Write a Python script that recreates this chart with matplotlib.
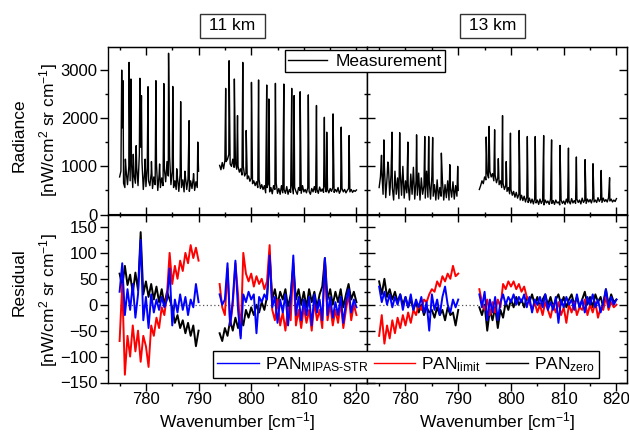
import matplotlib
matplotlib.use('Agg')
import matplotlib.pyplot as plt
from matplotlib.lines import Line2D
from matplotlib.ticker import MultipleLocator, NullFormatter
import numpy as np

plt.rcParams['font.family'] = ['Liberation Sans', 'DejaVu Sans']
plt.rcParams['mathtext.fontset'] = 'custom'
plt.rcParams['mathtext.rm'] = 'Liberation Sans'
plt.rcParams['mathtext.it'] = 'Liberation Sans:italic'
plt.rcParams['mathtext.bf'] = 'Liberation Sans:bold'

# ---- wavenumber grids (cm-1) ----
base_x1 = [775.00, 775.25, 775.50, 775.75, 776.00, 776.25, 776.50, 776.75,
           777.00, 777.25, 777.50, 777.75, 778.00, 778.25, 778.50, 778.75,
           779.00, 779.25, 779.50, 779.75, 780.00, 780.25, 780.50, 780.75,
           781.00, 781.25, 781.50, 781.75, 782.00, 782.25, 782.50, 782.75,
           783.00, 783.25, 783.50, 783.75, 784.00, 784.25, 784.50, 784.75,
           785.00, 785.25, 785.50, 785.75, 786.00, 786.25, 786.50, 786.75,
           787.00, 787.25, 787.50, 787.75, 788.00, 788.25, 788.50, 788.75,
           789.00, 789.25, 789.50, 789.75, 790.00]
base_x2 = [794.00, 794.25, 794.50, 794.75, 795.00, 795.25, 795.50, 795.75,
           796.00, 796.25, 796.50, 796.75, 797.00, 797.25, 797.50, 797.75,
           798.00, 798.25, 798.50, 798.75, 799.00, 799.25, 799.50, 799.75,
           800.00, 800.25, 800.50, 800.75, 801.00, 801.25, 801.50, 801.75,
           802.00, 802.25, 802.50, 802.75, 803.00, 803.25, 803.50, 803.75,
           804.00, 804.25, 804.50, 804.75, 805.00, 805.25, 805.50, 805.75,
           806.00, 806.25, 806.50, 806.75, 807.00, 807.25, 807.50, 807.75,
           808.00, 808.25, 808.50, 808.75, 809.00, 809.25, 809.50, 809.75,
           810.00, 810.25, 810.50, 810.75, 811.00, 811.25, 811.50, 811.75,
           812.00, 812.25, 812.50, 812.75, 813.00, 813.25, 813.50, 813.75,
           814.00, 814.25, 814.50, 814.75, 815.00, 815.25, 815.50, 815.75,
           816.00, 816.25, 816.50, 816.75, 817.00, 817.25, 817.50, 817.75,
           818.00, 818.25, 818.50, 818.75, 819.00, 819.25, 819.50, 819.75,
           820.00]
res_x1 = [775.0, 775.5, 776.0, 776.5, 777.0, 777.5, 778.0, 778.5, 779.0, 779.5,
          780.0, 780.5, 781.0, 781.5, 782.0, 782.5, 783.0, 783.5, 784.0, 784.5,
          785.0, 785.5, 786.0, 786.5, 787.0, 787.5, 788.0, 788.5, 789.0, 789.5,
          790.0]
res_x2 = [794.0, 794.5, 795.0, 795.5, 796.0, 796.5, 797.0, 797.5, 798.0, 798.5,
          799.0, 799.5, 800.0, 800.5, 801.0, 801.5, 802.0, 802.5, 803.0, 803.5,
          804.0, 804.5, 805.0, 805.5, 806.0, 806.5, 807.0, 807.5, 808.0, 808.5,
          809.0, 809.5, 810.0, 810.5, 811.0, 811.5, 812.0, 812.5, 813.0, 813.5,
          814.0, 814.5, 815.0, 815.5, 816.0, 816.5, 817.0, 817.5, 818.0, 818.5,
          819.0, 819.5, 820.0]

# ---- 11 km radiance: continuum between lines + line peaks ----
rad11_base1 = [780, 900, 1800, 650, 560, 900, 620, 1000,
               700, 1100, 560, 820, 650, 980, 600, 1250,
               1400, 1100, 520, 880, 580, 960, 700, 600,
               850, 540, 780, 620, 1050, 500, 820, 560,
               760, 600, 950, 680, 1100, 800, 1200, 620,
               900, 560, 700, 520, 760, 480, 850, 560,
               720, 470, 800, 520, 740, 480, 700, 540,
               760, 500, 680, 560, 900]
rad11_pk_x1 = [775.40, 775.65, 776.10, 776.80, 777.15, 777.60, 778.15, 778.85,
               779.15, 779.85, 780.40, 781.05, 781.90, 782.60, 783.40, 784.30,
               785.10, 785.85, 786.60, 787.40, 788.20, 789.05, 789.85]
rad11_pk_y1 = [3000, 2780, 1150, 3160, 2815, 1250, 1430, 2830,
               2470, 1150, 2655, 1100, 2780, 1050, 2720, 3350,
               2660, 950, 2345, 900, 1950, 850, 1505]
rad11_base2 = [1020, 930, 1080, 950, 1120, 1100, 1150, 1250,
               1050, 1000, 1150, 980, 1080, 940, 1000, 880,
               950, 820, 1000, 800, 860, 740, 800, 690,
               760, 640, 700, 600, 680, 560, 720, 540,
               620, 520, 600, 450, 560, 640, 470, 560,
               430, 600, 520, 650, 440, 540, 420, 600,
               450, 520, 440, 580, 420, 520, 460, 620,
               430, 560, 480, 420, 560, 500, 440, 600,
               470, 520, 450, 560, 480, 420, 540, 470,
               580, 460, 520, 440, 570, 480, 530, 460,
               600, 470, 520, 450, 540, 480, 560, 460,
               520, 470, 560, 440, 500, 540, 470, 520,
               450, 500, 540, 470, 520, 460, 500, 480,
               510]
rad11_pk_x2 = [795.15, 795.80, 796.80, 797.40, 798.40, 799.05, 800.05, 801.40,
               802.95, 803.35, 804.60, 806.20, 807.70, 808.15, 809.30, 810.85,
               812.40, 813.90, 814.35, 815.55, 817.10, 818.60]
rad11_pk_y2 = [2620, 3195, 2815, 2055, 3160, 1745, 2745, 2795,
               2690, 2400, 2725, 2710, 2620, 2470, 2550, 2485,
               2265, 2020, 1710, 2090, 1815, 1640]

# ---- 13 km radiance ----
rad13_base1 = [560, 780, 900, 420, 1000, 350, 760, 1050,
               400, 820, 560, 300, 900, 420, 760, 330,
               880, 400, 1000, 340, 700, 450, 640, 300,
               840, 420, 980, 320, 700, 400, 860, 300,
               760, 420, 600, 340, 900, 360, 700, 320,
               800, 380, 620, 300, 720, 320, 560, 380,
               700, 300, 620, 350, 700, 300, 560, 360,
               680, 320, 600, 380, 500]
rad13_pk_x1 = [775.45, 775.90, 776.65, 777.45, 778.90, 780.45, 782.10, 783.65,
               784.40, 785.15, 786.80, 788.40, 789.90]
rad13_pk_y1 = [1230, 1550, 1090, 1710, 1700, 1505, 1655, 1620,
               1620, 1600, 1275, 1035, 1000]
rad13_base2 = [520, 600, 700, 640, 780, 720, 860, 760,
               900, 780, 850, 700, 820, 660, 760, 620,
               700, 560, 650, 520, 600, 480, 560, 430,
               520, 400, 480, 360, 460, 340, 420, 300,
               400, 290, 380, 260, 360, 250, 340, 240,
               320, 220, 330, 240, 300, 210, 320, 230,
               290, 200, 300, 240, 280, 210, 320, 230,
               290, 210, 300, 240, 260, 200, 300, 230,
               280, 210, 320, 240, 280, 220, 330, 240,
               290, 230, 320, 250, 300, 220, 340, 250,
               300, 230, 320, 260, 310, 240, 340, 260,
               300, 250, 350, 270, 320, 250, 340, 270,
               310, 260, 350, 280, 320, 260, 300, 270,
               330]
rad13_pk_x2 = [795.30, 795.85, 796.90, 797.60, 798.40, 799.10, 799.90, 801.55,
               803.10, 804.60, 806.20, 807.70, 809.30, 810.90, 812.40, 814.05,
               815.55, 817.10, 818.70]
rad13_pk_y2 = [1610, 1830, 1760, 1160, 2055, 1100, 1690, 1745,
               1620, 1620, 1640, 1550, 1435, 1380, 1195, 1140,
               1055, 915, 765]

# ---- residuals, 11 km ----
res11_zero1 = [60, 35, 75, 38, 58, 22, 62, 28, 140, 20,
               45, 15, 40, 10, 35, 5, 30, 0, 25, 10,
               -5, -35, -20, -45, -30, -55, -35, -60, -40, -80,
               -50]
res11_limit1 = [-70, 40, -135, -60, -100, -40, -90, -50, -110, -60,
                -80, -120, -40, -60, -25, -45, -5, -20, 20, 100,
                40, 75, 50, 85, 65, 100, 80, 115, 90, 110,
                85]
res11_mipas1 = [25, 80, -20, 30, -10, 40, -25, 20, 125, -30,
                15, -45, 20, -15, 10, -10, 15, -5, 10, 70,
                -40, 10, -15, 20, -10, 15, -20, 10, -5, 40,
                5]
res11_zero2 = [-55, -70, -45, -60, -30, -50, -25, -45, -20, -40,
               -10, -25, -5, -20, 0, -15, 5, -10, 15, 100,
               10, 30, 0, 25, 10, 30, -5, 20, 75, 10,
               30, 0, 25, -5, 30, 5, 25, -5, 20, 35,
               90, 10, 30, 0, 25, 5, 30, -5, 20, 40,
               10, 25, 5]
res11_limit2 = [40, -5, -20, 70, -40, 0, 80, 20, -60, 100,
                60, 45, 60, 35, 55, 40, 50, 30, 45, 115,
                -10, -30, 10, -40, -15, -50, -5, -30, 80, -40,
                -10, -45, -5, -35, -10, -50, 5, -30, -10, -45,
                85, -30, 0, -40, -10, -35, 5, -45, -10, 20,
                -30, 0, -20]
res11_mipas2 = [20, 0, 10, 80, -40, 10, 85, -10, -65, 20,
                5, 25, 10, 20, -55, 15, 5, 20, 10, 95,
                -5, 15, -35, 10, -15, 20, -40, 10, 95, -20,
                15, -30, 10, -20, 15, -40, 20, -15, 10, -30,
                90, -20, 15, -25, 5, -20, 15, -35, 5, 30,
                -15, 10, -5]

# ---- residuals, 13 km ----
res13_zero1 = [45, 20, 50, 15, 30, 10, 25, 5, 20, 0,
               15, -5, 10, -10, 5, -15, 0, -20, -5, -15,
               -10, -25, -5, -20, -10, -30, -5, -20, -15, -40,
               -10]
res13_limit1 = [-60, -20, -75, -40, -65, -30, -55, -25, -45, -20,
                -40, -15, -35, -10, -20, 0, -10, 10, 5, 20,
                30, 25, 45, 35, 55, 45, 60, 50, 75, 55,
                60]
res13_mipas1 = [35, 5, 25, 0, 20, -5, 15, 0, 20, -10,
                15, -5, 20, -10, 10, -5, 15, -15, 5, -50,
                20, -10, 10, -20, 15, 35, 0, -15, 10, -5,
                10]
res13_zero2 = [-5, -20, 0, -50, -10, -30, -5, -45, -10, -25,
               5, -10, 10, -5, 15, 0, 10, -5, 15, 5,
               20, 0, 15, -5, 10, 20, 0, 15, -5, 10,
               20, 0, 15, -5, 10, 20, 0, 15, -5, 10,
               25, 0, 15, -5, 20, 5, 15, -5, 30, 0,
               20, 5, 10]
res13_limit2 = [30, 5, -10, 10, -20, 5, -15, 10, -5, 40,
                30, 45, 35, 45, 30, 40, 25, 35, 15, 5,
                -10, 5, -15, 0, -20, 5, -10, -25, 0, -15,
                5, -20, -5, -35, 0, -15, 5, -20, -5, -10,
                10, -20, 0, -15, 5, -25, -5, -10, 15, -10,
                5, -5, 0]
res13_mipas2 = [20, -5, 25, -30, 10, -15, 15, -30, 5, 20,
                0, 15, 5, 20, 0, 15, 5, 20, -5, 15,
                -15, 10, 0, 15, -5, 20, -10, 5, -10, 15,
                -35, 10, -5, 15, 0, 10, -10, 20, -5, 10,
                -15, 15, 0, 20, -5, 10, -15, 5, 30, -5,
                15, 0, 10]

altitudes = ['11 km', '13 km']
legend_labels = [r'PAN$_{\mathrm{MIPAS\text{-}STR}}$', r'PAN$_{\mathrm{limit}}$',
                 r'PAN$_{\mathrm{zero}}$']


def spectrum(bx, by, px, py):
    # merge continuum samples and line peaks into one trace
    x = np.concatenate([bx, px])
    y = np.concatenate([by, py])
    order = np.argsort(x, kind='stable')
    return x[order], y[order]


fig = plt.figure(figsize=(6.29, 4.33), dpi=100)
W, H = 629.0, 433.0
lefts = [107.5 / W, 367.0 / W]
widths = [259.5 / W, 260.0 / W]
top_b, top_h = 1 - 214.5 / H, 167.5 / H
bot_b, bot_h = 1 - 382.5 / H, 168.0 / H

FS = 12.5
TS = 12


def style(ax, xdir, ydir, xlab, ylab, ymaj, ymin):
    ax.set_xlim(772.7, 822.0)
    ax.xaxis.set_major_locator(MultipleLocator(10))
    ax.xaxis.set_minor_locator(MultipleLocator(5))
    ax.yaxis.set_major_locator(MultipleLocator(ymaj))
    ax.yaxis.set_minor_locator(MultipleLocator(ymin))
    ax.tick_params(axis='x', which='both', direction=xdir, labelbottom=xlab)
    ax.tick_params(axis='y', which='both', direction=ydir, labelleft=ylab)
    ax.tick_params(which='major', length=5.5, width=1, labelsize=TS, pad=1.5)
    ax.tick_params(which='minor', length=2.5, width=1)
    secx = ax.secondary_xaxis('top')
    secx.xaxis.set_major_locator(MultipleLocator(10))
    secx.xaxis.set_minor_locator(MultipleLocator(5))
    secx.xaxis.set_major_formatter(NullFormatter())
    secx.tick_params(which='both', direction='in')
    secx.tick_params(which='major', length=5.5, width=1)
    secx.tick_params(which='minor', length=2.5, width=1)
    secy = ax.secondary_yaxis('right')
    secy.yaxis.set_major_locator(MultipleLocator(ymaj))
    secy.yaxis.set_minor_locator(MultipleLocator(ymin))
    secy.yaxis.set_major_formatter(NullFormatter())
    secy.tick_params(which='both', direction='in')
    secy.tick_params(which='major', length=5.5, width=1)
    secy.tick_params(which='minor', length=2.5, width=1)
    for sp in ax.spines.values():
        sp.set_linewidth(1.0)


rad = [
    [(rad11_base1, rad11_pk_x1, rad11_pk_y1), (rad11_base2, rad11_pk_x2, rad11_pk_y2)],
    [(rad13_base1, rad13_pk_x1, rad13_pk_y1), (rad13_base2, rad13_pk_x2, rad13_pk_y2)],
]
res = [
    [(res11_zero1, res11_limit1, res11_mipas1), (res11_zero2, res11_limit2, res11_mipas2)],
    [(res13_zero1, res13_limit1, res13_mipas1), (res13_zero2, res13_limit2, res13_mipas2)],
]
base_grids = [base_x1, base_x2]
res_grids = [res_x1, res_x2]

for i in range(2):
    ax_t = fig.add_axes([lefts[i], top_b, widths[i], top_h])
    ax_b = fig.add_axes([lefts[i], bot_b, widths[i], bot_h])

    for seg in range(2):
        by, pkx, pky = rad[i][seg]
        x, y = spectrum(base_grids[seg], by, pkx, pky)
        ax_t.plot(x, y, color='black', lw=1.0)
    ax_t.set_ylim(0, 3480)
    style(ax_t, 'in', 'out' if i == 0 else 'in', False, i == 0, 1000, 500)

    ax_b.hlines(0, res_x1[0], res_x2[-1], colors='#555555', linestyles=(0, (1, 2)), lw=0.9)
    for seg in range(2):
        zero, limit, mipas = res[i][seg]
        ax_b.plot(res_grids[seg], zero, color='black', lw=1.4)
        ax_b.plot(res_grids[seg], limit, color='#ff0000', lw=1.4)
        ax_b.plot(res_grids[seg], mipas, color='#0000ff', lw=1.4)
    ax_b.set_ylim(-150, 174)
    style(ax_b, 'out', 'out' if i == 0 else 'in', True, i == 0, 50, 25)

    cx = lefts[i] + widths[i] / 2
    fig.text(cx, 6 / H, r'Wavenumber [cm$^{-1}$]', ha='center', va='baseline', fontsize=FS)

# altitude boxes
for xc, lab in zip([232.5 / W, 492.5 / W], altitudes):
    fig.text(xc, 1 - 25.7 / H, ' ' + lab + ' ', ha='center', va='center', fontsize=FS,
             bbox=dict(boxstyle='square,pad=0.25', fc='white', ec='#333333', lw=1))

# y labels
fig.text(18.7 / W, 1 - 135 / H, 'Radiance', rotation=90, ha='center', va='center', fontsize=FS)
fig.text(48.5 / W, 1 - 130 / H, r'[nW/cm$^{2}$ sr cm$^{-1}$]', rotation=90, ha='center',
         va='center', fontsize=FS)
fig.text(18.7 / W, 1 - 282 / H, 'Residual', rotation=90, ha='center', va='center', fontsize=FS)
fig.text(48.5 / W, 1 - 300 / H, r'[nW/cm$^{2}$ sr cm$^{-1}$]', rotation=90, ha='center',
         va='center', fontsize=FS)

# legends
meas = Line2D([], [], color='black', lw=1.0)
fig.legend([meas], ['Measurement'], loc='upper center', bbox_to_anchor=(365 / W, 1 - 50 / H),
           fontsize=FS, fancybox=False, edgecolor='black', framealpha=1, handlelength=2.2,
           handletextpad=0.5, borderpad=0.2, borderaxespad=0)

h_blue = Line2D([], [], color='#0000ff', lw=1.0)
h_red = Line2D([], [], color='#ff0000', lw=1.0)
h_black = Line2D([], [], color='black', lw=1.0)
fig.legend([h_blue, h_red, h_black], legend_labels, ncol=3, loc='lower center',
           bbox_to_anchor=(406 / W, 1 - 378 / H), fontsize=FS, fancybox=False,
           edgecolor='black', framealpha=1, handlelength=2.4, handletextpad=0.35,
           columnspacing=0.3, borderpad=0.25, borderaxespad=0)

fig.savefig('out.png', dpi=100)
